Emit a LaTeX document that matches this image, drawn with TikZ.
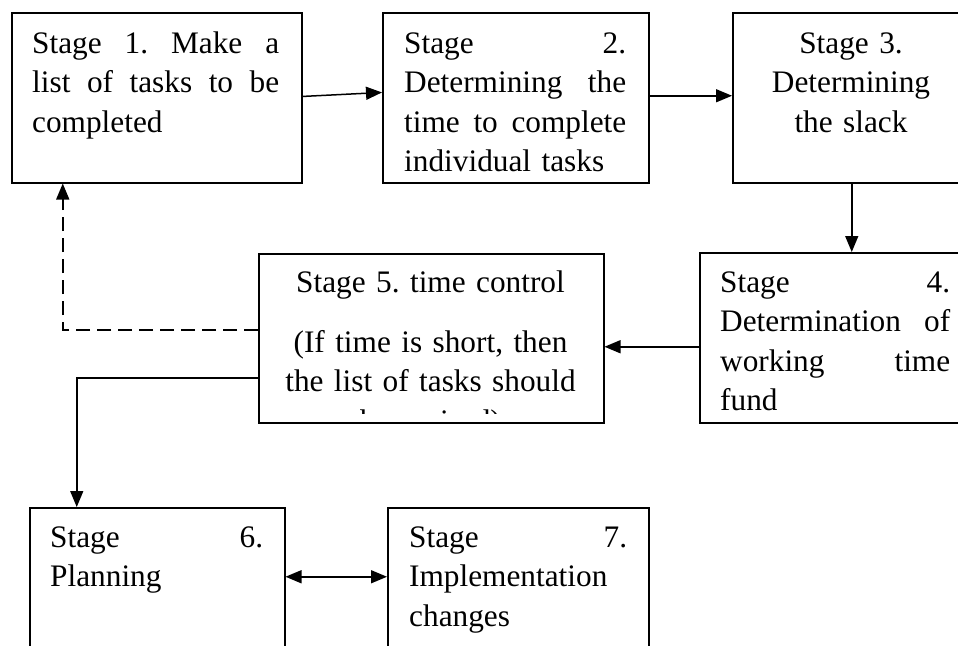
\documentclass[tikz,border=0pt]{standalone}
\usepackage{fontspec}
\setmainfont{Liberation Serif}
\usetikzlibrary{arrows.meta,calc}

% a justified line of a given width: each \gap is a word space that stretches
\newcommand{\gap}{\hskip 0.25em plus 1fil\relax}
\newcommand{\jl}[2]{\leavevmode\hbox to #1{#2}}
\frenchspacing

\begin{document}
\begin{tikzpicture}[x=1pt,y=-1pt,
  box/.style={draw,line width=1.5pt,rectangle,inner sep=0pt,anchor=north west},
  txt/.style={inner sep=0pt,font=\fontsize{31.3}{39.5}\selectfont},
  lefttxt/.style={txt,anchor=base west,align=left},
  midtxt/.style={txt,anchor=base,align=center},
  link/.style={line width=1.5pt,-{Triangle[length=16pt,width=13pt]}},
  duallink/.style={line width=1.5pt,{Triangle[length=16pt,width=13pt]}-{Triangle[length=16pt,width=13pt]}},
  backlink/.style={link,dash pattern=on 14pt off 7pt},
]
\useasboundingbox (0,0) rectangle (958,645);
\fill[white] (0,0) rectangle (958,645);
\clip (0,0) rectangle (958,645);

% stage boxes
\node[box,minimum width=290pt,minimum height=170pt] (s1) at (11,12) {};
\node[box,minimum width=266pt,minimum height=170pt] (s2) at (382,12) {};
\node[box,minimum width=240pt,minimum height=170pt] (s3) at (732,12) {};
\node[box,minimum width=273pt,minimum height=170pt] (s4) at (699,252) {};
\node[box,minimum width=345pt,minimum height=169pt] (s5) at (258,253) {};
\node[box,minimum width=255pt,minimum height=160pt] (s6) at (29,507) {};
\node[box,minimum width=261pt,minimum height=160pt] (s7) at (387,507) {};

% box texts
\node[lefttxt,text width=247pt] (t1) at (32,53)
  {\jl{247pt}{Stage\gap 1.\gap Make\gap a}\\
   \jl{247pt}{list\gap of\gap tasks\gap to\gap be}\\completed};
\node[lefttxt,text width=222pt] (t2) at (404,53)
  {\jl{222pt}{Stage\gap 2.}\\
   \jl{222pt}{Determining\gap the}\\
   \jl{222pt}{time\gap to\gap complete}\\individual tasks};
\node[midtxt,text width=230pt] (t3) at (851,53)
  {Stage 3.\\Determining\\the slack};
\node[lefttxt,text width=230pt] (t4) at (720,292)
  {\jl{230pt}{Stage\gap 4.}\\
   \jl{230pt}{Determination\gap of}\\
   \jl{230pt}{working\gap time}\\fund};
\begin{scope}
  \clip (258,253) rectangle (603,413);
  \node[midtxt,text width=340pt] (t5) at (430.5,292)
    {Stage 5. time control\\[20.5pt](If time is short, then\\the list of tasks should\\be revised)};
\end{scope}
\node[lefttxt,text width=213pt] (t6) at (50,547)
  {\jl{213pt}{Stage\gap 6.}\\Planning};
\node[lefttxt,text width=218pt] (t7) at (409,547)
  {\jl{218pt}{Stage\gap 7.}\\Implementation\\changes};

% connectors
\draw[link] ([yshift=1.3pt]s1.east) -- ([yshift=5.3pt]s2.west);
\draw[link] ([yshift=2pt]s2.east) -- ([yshift=2pt]s3.west);
\coordinate (c34) at ([xshift=-1pt]s3.south);
\draw[link] (c34) -- (c34 |- s4.north);
\coordinate (c45) at ([yshift=-9pt]s4.west);
\draw[link] (c45) -- (c45 -| s5.east);
\coordinate (c51) at ([yshift=8.5pt]s5.west);
\coordinate (e1) at ([xshift=-94pt]s1.south);
\draw[backlink] (c51) -| (e1);
\coordinate (c56) at ([yshift=-39.5pt]s5.west);
\coordinate (e6) at ([xshift=-80.5pt]s6.north);
\draw[link] (c56) -| (e6);
\draw[duallink] ([yshift=11pt]s6.east) -- ([yshift=11pt]s7.west);
\end{tikzpicture}
\end{document}
